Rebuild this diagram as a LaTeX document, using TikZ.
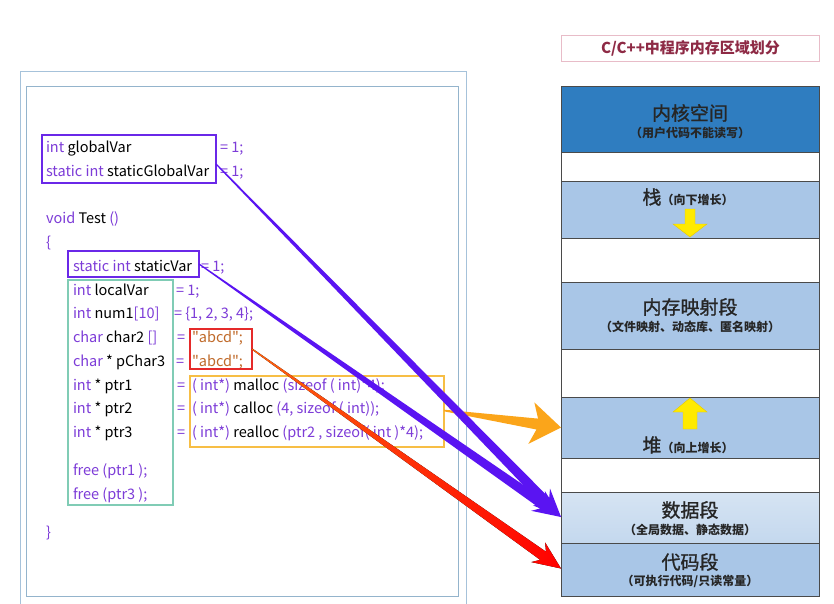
\documentclass[tikz,border=0pt]{standalone}
\usepackage{fontspec}
\setmainfont{Noto Sans CJK SC}
\newfontfamily\codefont{Noto Sans CJK SC}
\newfontfamily\headfont{Noto Sans CJK SC}[FakeBold=1.2]
\usetikzlibrary{calc}
\definecolor{kw}{HTML}{7D3CD8}
\definecolor{strc}{HTML}{C06A2A}
\definecolor{boxp}{HTML}{6A28E8}
\definecolor{arrp}{HTML}{5A14F2}
\definecolor{tealc}{HTML}{80CCB5}
\definecolor{boxr}{HTML}{E52A2A}
\definecolor{boxo}{HTML}{F7BE45}
\definecolor{framea}{HTML}{A6C2DA}
\definecolor{frameb}{HTML}{94B4CC}
\definecolor{darkseg}{HTML}{2F7DC0}
\definecolor{lightseg}{HTML}{A9C6E7}
\definecolor{dataseg}{HTML}{C4D8EE}
\definecolor{segline}{HTML}{4A4A4A}
\definecolor{titlec}{HTML}{8E2A45}
\definecolor{titleb}{HTML}{E8BCC8}
\definecolor{arro}{HTML}{FBA51A}
\definecolor{yel}{HTML}{FFEA00}
\definecolor{yeld}{HTML}{E8C800}
\newcommand\kw[1]{\textcolor{kw}{#1}}
\newcommand\st[1]{\textcolor{strc}{#1}}
% #1 start, #2 tip, #3 fill options, #4 start half width, #5 shaft end half width,
% #6 shaft end distance from tip, #7 head half width, #8 barb distance from tip
\newcommand\taperarrow[8]{%
  \coordinate (th) at ($(#2)!#6!(#1)$);
  \coordinate (tb) at ($(#2)!#8!(#1)$);
  \fill[#3] ($(#1)!#4!90:(#2)$) -- ($(th)!#5!90:(#2)$) -- ($(tb)!#7!90:(#2)$) -- (#2)
    -- ($(tb)!#7!-90:(#2)$) -- ($(th)!#5!-90:(#2)$) -- ($(#1)!#4!-90:(#2)$) -- cycle;
}
\tikzset{
  code/.style={anchor=base west, inner sep=0pt, outer sep=0pt, font=\codefont\fontsize{14.5}{16}\selectfont, text=black},
  cbox/.style={anchor=north west, inner sep=0pt, outer sep=0pt, line width=1.6pt},
  seg/.style={draw=segline, line width=1pt, anchor=north west, minimum width=258pt, inner sep=0pt, outer sep=0pt},
  htext/.style={inner sep=0pt, font=\headfont\fontsize{19}{21}\selectfont, text=black!85},
  stext/.style={inner sep=0pt, font=\fontsize{12}{14}\selectfont\bfseries, text=black!85},
  yarrow/.style={fill=yel, draw=yeld, line width=0.4pt},
}
\begin{document}
\begin{tikzpicture}[x=1pt,y=-1pt]
\useasboundingbox (0,0) rectangle (834,604);
\fill[white] (0,0) rectangle (834,604);
% frames
\draw[framea, line width=1pt] (20,72) -- (466,72) -- (466,606) (20,606) -- (20,72);
\draw[frameb, line width=1pt] (26,87) rectangle (458,596);
% title
\node[draw=titleb, line width=1pt, anchor=north west, minimum width=258pt, minimum height=26pt, inner sep=0pt,
      text=titlec, font=\fontsize{15}{17}\selectfont\bfseries] (title) at (561,35) {C/C++中程序内存区域划分};
% memory segments
\node[seg, fill=darkseg, minimum height=66pt] (kern) at (561,87) {};
\node[seg, fill=white, minimum height=28pt] (g1) at (561,153) {};
\node[seg, fill=lightseg, minimum height=57pt] (stack) at (561,181) {};
\node[seg, fill=white, minimum height=44pt] (g2) at (561,238) {};
\node[seg, fill=lightseg, minimum height=67pt] (mmap) at (561,282) {};
\node[seg, fill=white, minimum height=48pt] (g3) at (561,349) {};
\node[seg, fill=lightseg, minimum height=61pt] (heap) at (561,397) {};
\node[seg, fill=white, minimum height=34pt] (g4) at (561,458) {};
\node[seg, top color=dataseg!70!white, bottom color=dataseg, minimum height=51pt] (data) at (561,492) {};
\node[seg, fill=lightseg, minimum height=53pt] (code) at (561,543) {};
% segment texts
\node[htext] (kt) at (690,113) {内核空间};
\node[stext] (ks) at (690,133) {（用户代码不能读写）};
\node[inner sep=0pt, text=black!85] (st) at (688,197) {{\headfont\fontsize{19}{21}\selectfont 栈}{\fontsize{12}{14}\selectfont\bfseries （向下增长）}};
\node[htext] (mt) at (690,307) {内存映射段};
\node[stext] (ms) at (690,327) {（文件映射、动态库、匿名映射）};
\node[inner sep=0pt, text=black!85] (ht) at (688,445) {{\headfont\fontsize{19}{21}\selectfont 堆}{\fontsize{12}{14}\selectfont\bfseries （向上增长）}};
\node[htext] (dt) at (690,510) {数据段};
\node[stext] (ds) at (690,530) {（全局数据、静态数据）};
\node[htext] (ct) at (690,562) {代码段};
\node[stext] (cs) at (690,581) {（可执行代码/只读常量）};
% yellow growth arrows
\draw[yarrow] (685,209) -- (695,209) -- (695,224) -- (707,224) -- (690,237) -- (673,224) -- (685,224) -- cycle;
\draw[yarrow] (690,398) -- (707,412) -- (697,412) -- (697,429) -- (683,429) -- (683,412) -- (673,412) -- cycle;
% code text
\node[code] (c1) at (46,153) {\kw{int} globalVar};
\node[code] (e1) at (220,153) {\kw{= 1;}};
\node[code] (c2) at (46,176) {\kw{static int} staticGlobalVar};
\node[code] (e2) at (220,176) {\kw{= 1;}};
\node[code] (c3) at (46,223) {\kw{void} Test \kw{()}};
\node[code] (c4) at (46,247) {\kw{\{}};
\node[code] (c5) at (73,271) {\kw{static int} staticVar};
\node[code] (e5) at (201,271) {\kw{= 1;}};
\node[code] (c6) at (73,295) {\kw{int} localVar};
\node[code] (e6) at (176,295) {\kw{= 1;}};
\node[code] (c7) at (73,318) {\kw{int} num1\kw{[10]}};
\node[code] (e7) at (174,318) {\kw{= \{1, 2, 3, 4\};}};
\node[code] (c8) at (73,342) {\kw{char} char2 \kw{[]}};
\node[code] (e8) at (177,342) {\kw{=}};
\node[code] (s8) at (192,342) {\st{"abcd";}};
\node[code] (c9) at (73,366) {\kw{char} * pChar3};
\node[code] (e9) at (176,366) {\kw{=}};
\node[code] (s9) at (192,366) {\st{"abcd";}};
\node[code] (c10) at (73,390) {\kw{int} * ptr1};
\node[code] (e10) at (177,390) {\kw{=}};
\node[code] (r10) at (192,390) {\kw{( int*)} malloc \kw{(sizeof ( int)*4);}};
\node[code] (c11) at (73,413) {\kw{int} * ptr2};
\node[code] (e11) at (177,413) {\kw{=}};
\node[code] (r11) at (192,413) {\kw{( int*)} calloc \kw{(4, sizeof ( int));}};
\node[code] (c12) at (73,437) {\kw{int} * ptr3};
\node[code] (e12) at (177,437) {\kw{=}};
\node[code] (r12) at (192,437) {\kw{( int*)} realloc \kw{(ptr2 , sizeof( int )*4);}};
\node[code] (c13) at (73,475) {\kw{free (ptr1 );}};
\node[code] (c14) at (73,499) {\kw{free (ptr3 );}};
\node[code] (c15) at (46,537) {\kw{\}}};
% highlight boxes
\node[cbox, draw=boxp, minimum width=174pt, minimum height=48pt] (gbox) at (42,135) {};
\node[cbox, draw=boxp, minimum width=131pt, minimum height=26pt] (sbox) at (68,251) {};
\node[cbox, draw=tealc, line width=1.3pt, minimum width=105pt, minimum height=225pt] (tbox) at (68,280) {};
\node[cbox, draw=boxr, minimum width=62pt, minimum height=40pt] (rbox) at (190,329) {};
\node[cbox, draw=boxo, line width=1.3pt, minimum width=254pt, minimum height=71pt] (obox) at (190,376) {};
% connectors
\coordinate (p1s) at ($(gbox.east)+(0,5)$);
\coordinate (p2s) at (sbox.east);
\coordinate (os) at ($(obox.east)+(0,-1)$);
\coordinate (rs) at (rbox.east);
\coordinate (dtip) at ($(data.west)+(0,-0.5)$);
\coordinate (htip) at (heap.west);
\coordinate (ctip) at ($(code.west)+(0,-1)$);
\taperarrow{os}{htip}{arro}{0.8pt}{5.5pt}{24pt}{21pt}{30pt}
\taperarrow{rs}{ctip}{left color=arro!60!red, middle color=red, right color=red}{0.6pt}{5pt}{22pt}{12pt}{28pt}
\taperarrow{p2s}{dtip}{arrp}{0.6pt}{5pt}{22pt}{12pt}{28pt}
\taperarrow{p1s}{dtip}{arrp}{0.6pt}{5pt}{22pt}{12pt}{28pt}
\end{tikzpicture}
\end{document}
